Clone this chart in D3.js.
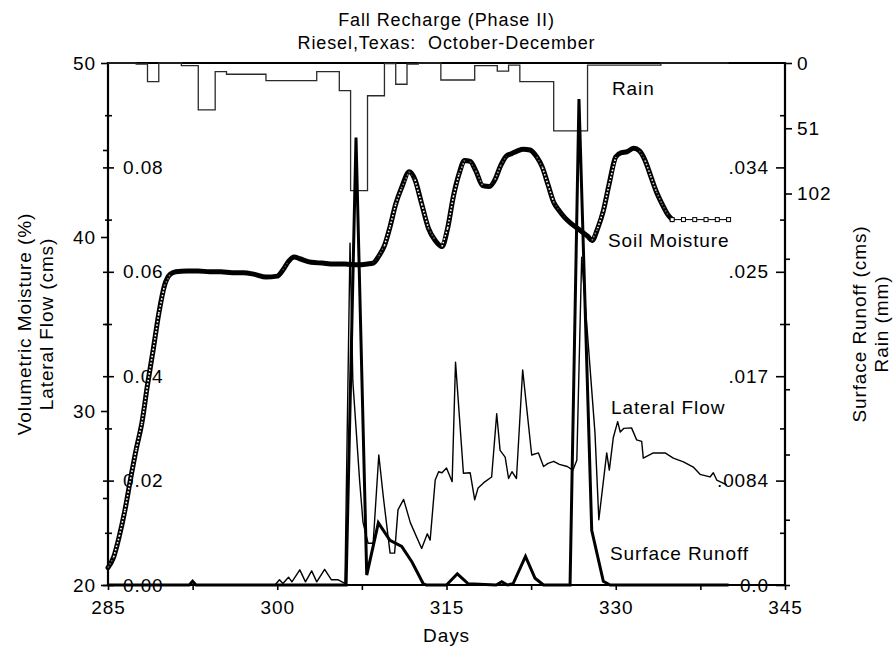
<!DOCTYPE html>
<html>
<head>
<meta charset="utf-8">
<script src="https://cdn.jsdelivr.net/npm/d3@7"></script>
<style>
  body { margin: 0; background: #fff; }
  svg text { font-family: "Liberation Sans", Arial, Helvetica, sans-serif; fill: #000; letter-spacing: 0.9px; }
</style>
</head>
<body>
<svg id="chart" width="893" height="648"></svg>
<script>
// ---- Rain (mm), stepped bins: bin i spans rainEdges[i] .. rainEdges[i+1]
const rainEdges = [285, 287.5, 288.5, 289.5, 291.5, 293, 294.5, 295.5, 299, 303.5, 305.5, 306.5, 308,
                   309.5, 310.5, 311.5, 312.5, 314.5, 317.5, 319.5, 320.5, 321.5, 324.5, 327.5, 334, 340];
const rainMm = [0, 0.8, 14.6, 0, 2.1, 36.7, 6.8, 8.8, 13.8, 6.8, 21.6, 99.8, 25.6,
                0.4, 16.6, 0.8, 0, 13.3, 2.1, 6.3, 1.6, 14.6, 53.1, 1.6, 0];

// ---- Soil moisture (volumetric %)
const soilDays = [285, 285.5, 286, 286.5, 287, 287.5, 288, 288.5, 289, 289.5, 290, 290.5, 291, 292, 293, 294,
  295, 296, 297, 298, 299, 300, 300.5, 301, 301.5, 302, 303, 304, 305, 306, 307, 308, 308.5, 309, 309.5, 310,
  310.5, 311, 311.7, 312.2, 312.8, 313.4, 314, 314.6, 315.1, 315.6, 316.1, 316.6, 317.1, 317.6, 318.2, 318.8,
  319.3, 319.8, 320.3, 320.8, 321.3, 321.8, 322.4, 323, 323.5, 324, 324.5, 325, 325.5, 326, 326.5, 327, 327.5,
  327.9, 328.4, 328.9, 329.4, 330, 330.5, 331, 331.6, 332.1, 332.6, 333.1, 333.6, 334.1, 334.6, 335,
  336, 337, 338, 339, 340];
const soilMoisture = [21.0, 21.6, 22.8, 24.3, 26.1, 27.8, 29.3, 31.5, 33.5, 35.6, 37.2, 37.85, 38.0, 38.05, 38.05, 38.0,
  38.0, 37.95, 37.95, 37.85, 37.7, 37.75, 38.1, 38.6, 38.85, 38.75, 38.55, 38.5, 38.45, 38.45, 38.4, 38.45, 38.5, 38.9, 39.5, 40.6,
  41.9, 42.8, 43.75, 43.3, 41.9, 40.5, 39.8, 39.45, 40.5, 42.3, 43.6, 44.4, 44.35, 43.8, 42.95, 42.9,
  43.3, 44.1, 44.65, 44.8, 44.95, 45.05, 45.0, 44.6, 44.0, 43.0, 42.0, 41.5, 41.1, 40.8, 40.55, 40.3, 40.05,
  39.8, 40.5, 41.5, 43.0, 44.6, 44.85, 44.9, 45.1, 44.95, 44.4, 43.5, 42.6, 41.9, 41.3, 41.0,
  41.0, 41.0, 41.0, 41.0, 41.0];
const soilDailyFrom = 335;   // from here on the record is daily

// ---- Lateral flow (cms)
const latDays = [285, 299.8, 300.2, 300.5, 301.0, 301.3, 302.0, 302.5, 303.05, 303.5, 304.2, 304.8, 305.4, 306.0,
  306.45, 306.7, 307.3, 307.6, 308.05, 308.5, 309.0, 309.4, 310.0, 310.4, 310.7, 311.2, 311.8, 312.8, 313.3,
  313.55, 314.0, 314.3, 314.6, 315.0, 315.5, 315.8, 316.5, 317.1, 317.5, 317.8, 318.3, 319.0, 319.45, 319.75,
  320.2, 320.5, 320.8, 321.2, 321.75, 322.55, 323.15, 323.6, 324.0, 324.5, 325.0, 325.7, 326.2, 326.55,
  326.98, 328.16, 328.5, 329.2, 329.43, 329.78, 330.17, 330.4, 330.7, 331.4, 331.85, 332.3, 332.44, 333.33,
  334.37, 335.1, 336.0, 336.87, 337.47, 338.35, 338.65, 338.95, 339.84];
const lateralFlow = [0, 0, 0.001, 0.0003, 0.0015, 0.0006, 0.0029, 0.0006, 0.0027, 0.0006, 0.003, 0.001, 0.001, 0.0003,
  0.0655, 0.039, 0.020, 0.012, 0.0080, 0.0080, 0.0249, 0.0169, 0.0061, 0.0061, 0.0144, 0.0164, 0.0119, 0.0070, 0.0098,
  0.0086, 0.0201, 0.0217, 0.0215, 0.0224, 0.0198, 0.0427, 0.0214, 0.0215, 0.0163, 0.0186, 0.0196, 0.0207, 0.0328, 0.0258,
  0.0245, 0.0204, 0.0217, 0.0204, 0.0412, 0.0249, 0.0253, 0.0227, 0.0233, 0.0237, 0.0231, 0.0227, 0.0220, 0.0239,
  0.0628, 0.0291, 0.0125, 0.0253, 0.0220, 0.0282, 0.0313, 0.0293, 0.0300, 0.0301, 0.0278, 0.0275, 0.0243, 0.0253,
  0.0253, 0.0243, 0.0236, 0.0226, 0.0212, 0.0207, 0.0215, 0.0201, 0.0192];

// ---- Surface runoff (cms)
const runDays = [285, 292.2, 292.5, 292.8, 306.1, 306.98, 307.93, 308.96, 309.99, 311.03, 311.94, 312.94, 313.2,
  315.0, 315.96, 316.93, 319.4, 319.9, 320.4, 320.9, 322.0, 322.85, 323.6, 325.95, 326.74, 327.87, 328.9, 329.5, 340];
const surfaceRunoff = [0, 0, 0.0003, 0, 0, 0.036, 0.0008, 0.0050, 0.0036, 0.0031, 0.00185, 0.0001, 0,
  0, 0.0009, 0.0001, 0, 0.00027, 0, 0.0001, 0.0023, 0.00054, 0, 0, 0.0391, 0.0044, 0.0003, 0, 0];

// ---- Tick values and labels
const dayTicks = d3.range(285, 345.1, 7.5);
const moistMajor = [20, 30, 40, 50], moistMinor = [25, 35, 45];
const latMajor = [0, 0.02, 0.04, 0.06, 0.08], latMinor = [0.01, 0.03, 0.05, 0.07, 0.09];
const runMajor = [0, 0.0084, 0.0168, 0.0252, 0.0336];
const runLabels = ["0.0", ".0084", ".017", ".025", ".034"];
const runMinor = [0.0042, 0.0126, 0.021, 0.0294, 0.0378];
const rainTicks = d3.range(0, 409, 51);
const rainLabelled = [0, 51, 102];

// ---- Layout
const svg = d3.select("#chart");
const L = 108, R = 785, T = 63, B = 585;
const FS = 19;

const x = d3.scaleLinear().domain([285, 345]).range([L, R]);
const yMoist = d3.scaleLinear().domain([20, 50]).range([B, T]);
const yLat = d3.scaleLinear().domain([0, 0.1]).range([B, T]);
const yRun = d3.scaleLinear().domain([0, 0.042]).range([B, T]);
const yRain = d3.scaleLinear().domain([0, 408]).range([T, B]);

function styleAxis(g) {
  g.attr("font-size", FS).attr("font-family", null);
  g.selectAll(".tick line").attr("stroke", "#000").attr("stroke-width", 1.6);
  g.select(".domain").remove();
}

// Titles
svg.append("text").attr("x", 446.5).attr("y", 26).attr("text-anchor", "middle")
  .attr("font-size", 18).text("Fall Recharge (Phase II)");
svg.append("text").attr("x", 446.5).attr("y", 49).attr("text-anchor", "middle")
  .attr("font-size", 18).attr("xml:space", "preserve").text("Riesel,Texas:  October-December");

// Left: moisture (outer) and lateral flow (inner)
svg.append("g").attr("transform", `translate(${L},0)`)
  .call(d3.axisLeft(yMoist).tickValues(moistMajor).tickSize(7).tickPadding(5).tickFormat(d3.format("d")))
  .call(styleAxis);
svg.append("g").attr("transform", `translate(${L},0)`)
  .call(d3.axisLeft(yMoist).tickValues(moistMinor).tickSize(5).tickFormat(""))
  .call(styleAxis);
svg.append("g").attr("transform", `translate(${L},0)`)
  .call(d3.axisRight(yLat).tickValues(latMajor).tickSize(6).tickPadding(9).tickFormat(d3.format(".2f")))
  .call(styleAxis)
  .call(g => g.selectAll(".tick line").attr("x1", -5));
svg.append("g").attr("transform", `translate(${L},0)`)
  .call(d3.axisRight(yLat).tickValues(latMinor).tickSize(4).tickFormat(""))
  .call(styleAxis)
  .call(g => g.selectAll(".tick line").attr("x1", -3));

// Right: surface runoff (inner) and rain (outer)
svg.append("g").attr("transform", `translate(${R},0)`)
  .call(d3.axisLeft(yRun).tickValues(runMajor).tickSize(9).tickPadding(7).tickFormat((d, i) => runLabels[i]))
  .call(styleAxis);
svg.append("g").attr("transform", `translate(${R},0)`)
  .call(d3.axisLeft(yRun).tickValues(runMinor).tickSize(5).tickFormat(""))
  .call(styleAxis);
svg.append("g").attr("transform", `translate(${R},0)`)
  .call(d3.axisRight(yRain).tickValues(rainTicks).tickSize(6).tickPadding(6)
    .tickFormat(d => rainLabelled.includes(d) ? d : ""))
  .call(styleAxis)
  .call(g => g.selectAll(".tick line").attr("x2", d => rainLabelled.includes(d) ? 7 : 5));

// Bottom: days
svg.append("g").attr("transform", `translate(0,${B})`)
  .call(d3.axisBottom(x).tickValues(dayTicks).tickSize(5).tickPadding(11)
    .tickFormat(d => d % 15 === 0 ? d : ""))
  .call(styleAxis);

// Frame
const frame = svg.append("g").attr("stroke", "#000").attr("stroke-width", 2.2).attr("fill", "none");
frame.append("line").attr("x1", L).attr("x2", L).attr("y1", T - 1).attr("y2", B + 1);
frame.append("line").attr("x1", R).attr("x2", R).attr("y1", T - 1).attr("y2", B + 1);
frame.append("line").attr("x1", L).attr("x2", R).attr("y1", T).attr("y2", T);
frame.append("line").attr("x1", L).attr("x2", R).attr("y1", B).attr("y2", B);

// Axis titles
svg.append("text").attr("transform", `translate(31,${(T + B) / 2}) rotate(-90)`)
  .attr("text-anchor", "middle").attr("font-size", FS).text("Volumetric Moisture (%)");
svg.append("text").attr("transform", `translate(53,${(T + B) / 2}) rotate(-90)`)
  .attr("text-anchor", "middle").attr("font-size", FS).text("Lateral Flow (cms)");
svg.append("text").attr("transform", `translate(866,${(T + B) / 2}) rotate(-90)`)
  .attr("text-anchor", "middle").attr("font-size", FS).text("Surface Runoff (cms)");
svg.append("text").attr("transform", `translate(888,${(T + B) / 2}) rotate(-90)`)
  .attr("text-anchor", "middle").attr("font-size", FS).text("Rain (mm)");
svg.append("text").attr("x", 446.5).attr("y", 642).attr("text-anchor", "middle")
  .attr("font-size", FS).text("Days");

// ---- Series
const plot = svg.append("g");

// Rain hyetograph hanging from the top axis
const rainPts = rainMm.map((v, i) => ({ d: rainEdges[i], v }));
rainPts.push({ d: rainEdges[rainEdges.length - 1], v: rainMm[rainMm.length - 1] });
plot.append("path").datum(rainPts)
  .attr("fill", "none").attr("stroke", "#2a2a2a").attr("stroke-width", 1.3)
  .attr("d", d3.line().x(p => x(p.d)).y(p => yRain(p.v)).curve(d3.curveStepAfter));

// Lateral flow
const latPts = latDays.map((d, i) => ({ d, v: lateralFlow[i] }));
plot.append("path").datum(latPts)
  .attr("fill", "none").attr("stroke", "#000").attr("stroke-width", 1.4).attr("stroke-linejoin", "round")
  .attr("d", d3.line().x(p => x(p.d)).y(p => yLat(p.v)));

// Surface runoff
const runPts = runDays.map((d, i) => ({ d, v: surfaceRunoff[i] }));
plot.append("path").datum(runPts)
  .attr("fill", "none").attr("stroke", "#000").attr("stroke-width", 3).attr("stroke-linejoin", "miter")
  .attr("stroke-miterlimit", 6)
  .attr("d", d3.line().x(p => x(p.d)).y(p => yRun(p.v)));

// Soil moisture: dense record drawn as a heavy marker trace, daily tail as open squares
const soilPts = soilDays.map((d, i) => ({ d, v: soilMoisture[i] }));
const densePts = soilPts.filter(p => p.d <= soilDailyFrom);
const dailyPts = soilPts.filter(p => p.d >= soilDailyFrom);
const soilLine = d3.line().x(p => x(p.d)).y(p => yMoist(p.v)).curve(d3.curveMonotoneX);

plot.append("path").datum(dailyPts)
  .attr("fill", "none").attr("stroke", "#000").attr("stroke-width", 1)
  .attr("d", d3.line().x(p => x(p.d)).y(p => yMoist(p.v)));
plot.append("path").datum(densePts)
  .attr("fill", "none").attr("stroke", "#000").attr("stroke-width", 5).attr("stroke-linejoin", "round")
  .attr("stroke-linecap", "round").attr("d", soilLine);
// open centres of the markers show where the trace is steep
const ladder = plot.append("g").attr("fill", "none").attr("stroke", "#fff")
  .attr("stroke-width", 1.6).attr("stroke-dasharray", "1.6 1.9");
d3.pairs(densePts).forEach(([a, b]) => {
  const dx = x(b.d) - x(a.d), dy = yMoist(b.v) - yMoist(a.v);
  const steep = Math.abs(dy) / Math.max(dx, 0.01);
  const op = Math.max(0, Math.min(1, (steep - 1.0) / 2.2));
  if (op > 0) {
    ladder.append("line")
      .attr("x1", x(a.d)).attr("y1", yMoist(a.v)).attr("x2", x(b.d)).attr("y2", yMoist(b.v))
      .attr("stroke-opacity", op);
  }
});
plot.append("g").selectAll("rect").data(dailyPts).join("rect")
  .attr("x", p => x(p.d) - 2).attr("y", p => yMoist(p.v) - 2)
  .attr("width", 4).attr("height", 4)
  .attr("fill", "#fff").attr("stroke", "#000").attr("stroke-width", 1);

// Series labels
const labels = [
  { t: "Rain", x: 612, y: 95 },
  { t: "Soil Moisture", x: 608, y: 247 },
  { t: "Lateral Flow", x: 611, y: 414 },
  { t: "Surface Runoff", x: 610, y: 560 }
];
svg.append("g").selectAll("text").data(labels).join("text")
  .attr("x", d => d.x).attr("y", d => d.y).attr("font-size", FS).text(d => d.t);
</script>
</body>
</html>
